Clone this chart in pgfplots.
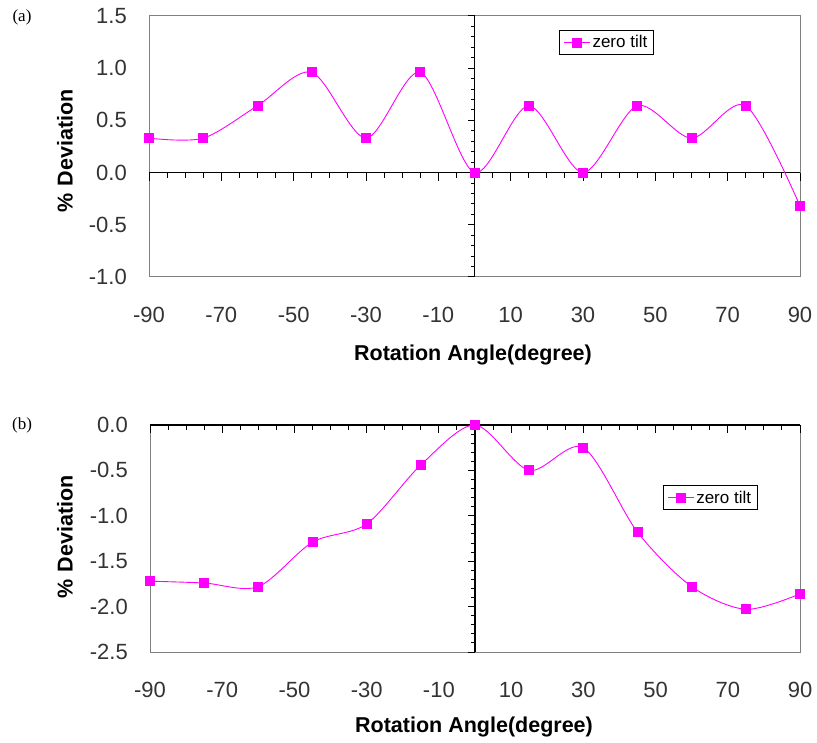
\documentclass[border=0pt]{standalone}
\usepackage{pgfplots}
\pgfplotsset{compat=1.18}
\usepackage{fontspec}
\setmainfont{Liberation Sans}
\newfontfamily\serif{Liberation Serif}

\definecolor{mag}{RGB}{255,0,255}
\definecolor{framegray}{RGB}{128,128,128}

\pgfplotsset{
  panel/.style={
    scale only axis,
    xmin=-90, xmax=90,
    axis line style={draw=none},
    tick style={draw=none},
    xtick={-90,-70,...,90},
    ticklabel style={font=\fontsize{22}{22}\selectfont, text=black!80},
    xticklabel style={anchor=center, yshift=-38pt, inner sep=0pt},
    yticklabel style={anchor=east, xshift=-22pt, inner sep=0pt,
      /pgf/number format/fixed, /pgf/number format/fixed zerofill,
      /pgf/number format/precision=1},
    /pgf/number format/assume math mode=true,
    clip=false,
    legend cell align=left,
    legend style={draw=black, line width=1pt, font=\fontsize{17}{17}\selectfont, inner xsep=4pt, inner ysep=3pt},
    legend image code/.code={\draw[mark repeat=2, mark phase=2, #1] plot coordinates {(0pt,0pt) (13pt,0pt) (26pt,0pt)};},
  },
  zt/.style={mag, line width=0.9pt, smooth, tension=0.5, mark=square*, mark size=4.5pt,
    mark options={solid, fill=mag, draw=mag}},
}

\begin{document}
\begin{tikzpicture}
\path[use as bounding box] (0,0) rectangle (817pt,742pt);

% panel (a)
\begin{axis}[panel,
    at={(149pt,465pt)}, anchor=south west,
    width=651pt, height=261pt,
    ymin=-1, ymax=1.5,
    ytick={-1,-0.5,...,1.5},
    legend style={at={(0.63,0.946)}, anchor=north west},
]
\draw[framegray, line width=1pt] (rel axis cs:0,0) rectangle (rel axis cs:1,1);
\draw[black, line width=1.3pt] (axis cs:-90,0) -- (axis cs:90,0);
\draw[black, line width=1.3pt] (axis cs:0,-1) -- (axis cs:0,1.5);
\pgfplotsinvokeforeach{-85,-80,...,85}{\draw[black, line width=1pt] (axis cs:#1,0) -- ([yshift=-5pt]axis cs:#1,0);}
\pgfplotsinvokeforeach{-90,-70,...,90}{\draw[black, line width=1pt] (axis cs:#1,0) -- ([yshift=-8pt]axis cs:#1,0);}
\pgfplotsinvokeforeach{-1.0,-0.9,-0.8,-0.7,-0.6,-0.4,-0.3,-0.2,-0.1,0.1,0.2,0.3,0.4,0.6,0.7,0.8,0.9,1.1,1.2,1.3,1.4}{\draw[black, line width=1pt] (axis cs:0,#1) -- ([xshift=-4pt]axis cs:0,#1);}
\pgfplotsinvokeforeach{-1,-0.5,0,0.5,1,1.5}{\draw[black, line width=1pt] (axis cs:0,#1) -- ([xshift=-7pt]axis cs:0,#1);}
\addplot[zt] coordinates {
  (-90,0.33) (-75,0.33) (-60,0.64) (-45,0.96) (-30,0.33) (-15,0.96) (0,0)
  (15,0.64) (30,0) (45,0.64) (60,0.33) (75,0.64) (90,-0.32)
};
\addlegendentry{zero tilt}
\end{axis}

% panel (b)
\begin{axis}[panel,
    at={(150pt,90pt)}, anchor=south west,
    width=650pt, height=227pt,
    ymin=-2.5, ymax=0,
    ytick={-2.5,-2,...,0},
    legend style={at={(0.789,0.734)}, anchor=north west},
]
\draw[framegray, line width=1pt] (rel axis cs:0,0) rectangle (rel axis cs:1,1);
\draw[black, line width=1.3pt] (axis cs:-90,0) -- (axis cs:90,0);
\draw[black, line width=1.3pt] (axis cs:0,-2.5) -- (axis cs:0,0);
\pgfplotsinvokeforeach{-85,-80,...,85}{\draw[black, line width=1pt] (axis cs:#1,0) -- ([yshift=-5pt]axis cs:#1,0);}
\pgfplotsinvokeforeach{-90,-70,...,90}{\draw[black, line width=1pt] (axis cs:#1,0) -- ([yshift=-8pt]axis cs:#1,0);}
\pgfplotsinvokeforeach{-2.4,-2.3,-2.2,-2.1,-1.9,-1.8,-1.7,-1.6,-1.4,-1.3,-1.2,-1.1,-0.9,-0.8,-0.7,-0.6,-0.4,-0.3,-0.2,-0.1}{\draw[black, line width=1pt] (axis cs:0,#1) -- ([xshift=-4pt]axis cs:0,#1);}
\pgfplotsinvokeforeach{-2.5,-2,-1.5,-1,-0.5,0}{\draw[black, line width=1pt] (axis cs:0,#1) -- ([xshift=-7pt]axis cs:0,#1);}
\addplot[zt] coordinates {
  (-90,-1.72) (-75,-1.74) (-60,-1.78) (-45,-1.29) (-30,-1.09) (-15,-0.44) (0,0)
  (15,-0.50) (30,-0.25) (45,-1.18) (60,-1.78) (75,-2.03) (90,-1.86)
};
\addlegendentry{zero tilt}
\end{axis}

% labels
\node[font=\serif\fontsize{17}{17}\selectfont] at (22pt,725pt) {(a)};
\node[font=\serif\fontsize{17}{17}\selectfont] at (22pt,317pt) {(b)};
\node[font=\bfseries\fontsize{21.5}{21.5}\selectfont] at (473pt,387pt) {Rotation Angle(degree)};
\node[font=\bfseries\fontsize{21.5}{21.5}\selectfont] at (474pt,15pt) {Rotation Angle(degree)};
\node[rotate=90, font=\bfseries\fontsize{21.5}{21.5}\selectfont] at (65pt,591pt) {\%\,\,Deviation};
\node[rotate=90, font=\bfseries\fontsize{21.5}{21.5}\selectfont] at (65pt,205pt) {\%\,\,Deviation};
\end{tikzpicture}
\end{document}
